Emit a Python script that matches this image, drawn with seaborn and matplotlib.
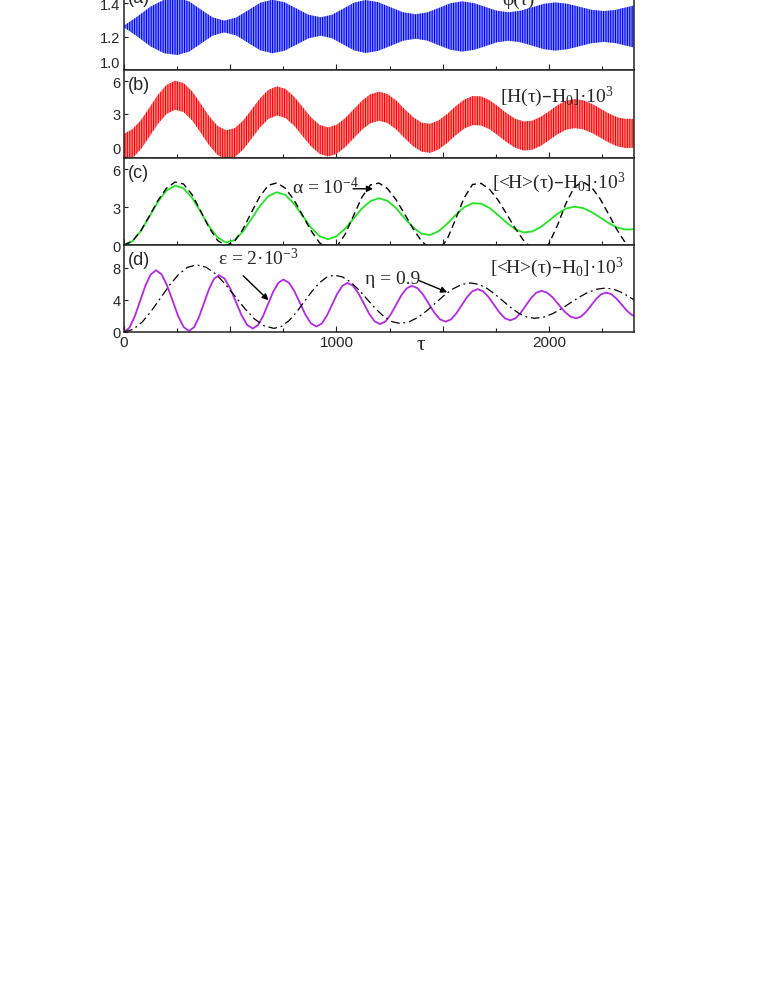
import matplotlib
matplotlib.use("Agg")
import matplotlib.pyplot as plt
import seaborn as sns
import numpy as np
import pandas as pd
from matplotlib.ticker import MultipleLocator

sns.set_style("ticks")
plt.rcParams['font.family'] = ['Liberation Sans', 'DejaVu Sans']
plt.rcParams['mathtext.default'] = 'regular'
plt.rcParams['hatch.linewidth'] = 0.8

SERIF = ['Liberation Serif', 'DejaVu Serif']

# ---------------- data ----------------
# panel (a): envelope of the fast oscillation of phi(tau)
tau_a = [0, 63, 126, 189, 252, 306.75, 361.5, 416.25, 471, 527.75, 584.5, 641.25, 698,
         755, 812, 869, 926, 978.5, 1031, 1083.5, 1136, 1195, 1254, 1313, 1372, 1426.75,
         1481.5, 1536.25, 1591, 1645.75, 1700.5, 1755.25, 1810, 1864.75, 1919.5, 1974.25,
         2029, 2085.75, 2142.5, 2199.25, 2256, 2312, 2368, 2424]
phi_upper = [1.265, 1.32, 1.38, 1.42, 1.43, 1.41, 1.362, 1.315, 1.295, 1.313, 1.357, 1.402, 1.42,
             1.405, 1.367, 1.33, 1.315, 1.33, 1.366, 1.403, 1.418, 1.406, 1.375, 1.345, 1.333, 1.344,
             1.371, 1.399, 1.41, 1.40, 1.377, 1.354, 1.345, 1.354, 1.374, 1.395, 1.404, 1.396,
             1.378, 1.36, 1.352, 1.359, 1.376, 1.393]
phi_lower = [1.255, 1.20, 1.14, 1.10, 1.09, 1.11, 1.157, 1.205, 1.225, 1.207, 1.162, 1.118, 1.10,
             1.115, 1.152, 1.19, 1.205, 1.19, 1.153, 1.117, 1.102, 1.114, 1.144, 1.175, 1.187, 1.176,
             1.148, 1.121, 1.11, 1.12, 1.142, 1.166, 1.175, 1.166, 1.146, 1.125, 1.116, 1.124,
             1.142, 1.16, 1.168, 1.161, 1.144, 1.127]

# common tau grid for panels (b) and (c)
tau_bc = [0, 40, 80, 120, 160, 200, 240, 280, 320, 360, 400, 440, 480, 520, 560, 600, 640, 680,
          720, 760, 800, 840, 880, 920, 960, 1000, 1040, 1080, 1120, 1160, 1200, 1240, 1280,
          1320, 1360, 1400, 1440, 1480, 1520, 1560, 1600, 1640, 1680, 1720, 1760, 1800, 1840,
          1880, 1920, 1960, 2000, 2040, 2080, 2120, 2160, 2200, 2240, 2280, 2320, 2360, 2400]

# panel (b): envelope of H(tau)-H0 (x1e3)
H_upper = [1.20, 1.62, 2.45, 3.59, 4.75, 5.64, 6.03, 5.82, 5.07, 3.97, 2.81, 1.92, 1.52, 1.70,
           2.39, 3.39, 4.42, 5.20, 5.51, 5.28, 4.59, 3.65, 2.70, 2.02, 1.78, 2.01, 2.61, 3.41,
           4.22, 4.80, 5.03, 4.82, 4.25, 3.46, 2.72, 2.22, 2.11, 2.41, 2.99, 3.69, 4.30, 4.63,
           4.60, 4.26, 3.70, 3.09, 2.58, 2.32, 2.39, 2.73, 3.25, 3.80, 4.21, 4.36, 4.25, 3.94,
           3.51, 3.06, 2.71, 2.55, 2.57]
H_lower = [-1.10, -1.02, -0.19, 0.95, 2.11, 3.00, 3.39, 3.18, 2.43, 1.33, 0.17, -0.72, -1.12,
           -0.94, -0.25, 0.75, 1.78, 2.56, 2.87, 2.64, 1.95, 1.01, 0.06, -0.62, -0.86, -0.63,
           -0.03, 0.77, 1.58, 2.16, 2.39, 2.18, 1.61, 0.82, 0.08, -0.42, -0.53, -0.23, 0.35,
           1.05, 1.66, 1.99, 1.96, 1.62, 1.06, 0.45, -0.06, -0.32, -0.25, 0.09, 0.61, 1.16,
           1.57, 1.72, 1.61, 1.30, 0.87, 0.42, 0.07, -0.09, -0.07]

# panel (c): averaged <H> (green) and alpha = 1e-4 (dashed)
avgH_c = [0.00, 0.30, 1.13, 2.27, 3.43, 4.32, 4.71, 4.50, 3.75, 2.65, 1.49, 0.60, 0.20, 0.38,
          1.07, 2.07, 3.10, 3.88, 4.19, 3.96, 3.27, 2.33, 1.38, 0.70, 0.46, 0.69, 1.29, 2.09,
          2.90, 3.48, 3.71, 3.50, 2.93, 2.14, 1.40, 0.90, 0.79, 1.09, 1.67, 2.37, 2.98, 3.31,
          3.28, 2.94, 2.38, 1.77, 1.26, 1.00, 1.07, 1.41, 1.93, 2.48, 2.89, 3.04, 2.93, 2.62,
          2.19, 1.74, 1.39, 1.23, 1.25]
alpha_c = [0.00, 0.31, 1.15, 2.32, 3.54, 4.51, 4.99, 4.84, 4.00, 2.72, 1.38, 0.36, -0.05, 0.29,
           1.26, 2.59, 3.88, 4.74, 4.93, 4.49, 3.57, 2.36, 1.14, 0.18, -0.31, -0.15, 0.83, 2.32,
           3.80, 4.77, 4.91, 4.47, 3.60, 2.47, 1.31, 0.31, -0.30, -0.41, 0.42, 2.03, 3.72, 4.80,
           4.89, 4.42, 3.57, 2.48, 1.35, 0.37, -0.28, -0.50, 0.11, 1.57, 3.31, 4.62, 5.00, 4.59,
           3.68, 2.46, 1.20, 0.16, -0.42]

# panel (d): eps = 2e-3 (purple) and eta = 0.9 (dash-dot)
tau_eps = [0, 25.2, 50.3, 75.5, 100.7, 125.8, 151, 176.8, 202.7, 228.5, 254.3, 280.2, 306,
           329.5, 353, 376.5, 400, 423.5, 447, 473.5, 500, 526.5, 553, 579.5, 606, 630, 654,
           678, 702, 726, 750, 776, 802, 828, 854, 880, 906, 930.3, 954.7, 979, 1003.3, 1027.7,
           1052, 1077.5, 1103, 1128.5, 1154, 1179.5, 1205, 1230, 1255, 1280, 1305, 1330, 1355,
           1381.3, 1407.7, 1434, 1460.3, 1486.7, 1513, 1538.2, 1563.3, 1588.5, 1613.7, 1638.8,
           1664, 1689.7, 1715.3, 1741, 1766.7, 1792.3, 1818, 1842.3, 1866.7, 1891, 1915.3,
           1939.7, 1964, 1991.2, 2018.3, 2045.5, 2072.7, 2099.8, 2127, 2150.7, 2174.3, 2198,
           2221.7, 2245.3, 2269, 2293.3, 2317.7, 2342, 2366.3, 2390.7, 2415]
val_eps = [0.00, 0.51, 1.92, 3.83, 5.75, 7.15, 7.66, 7.16, 5.78, 3.90, 2.01, 0.63, 0.13, 0.59,
           1.86, 3.60, 5.33, 6.60, 7.06, 6.62, 5.40, 3.75, 2.09, 0.87, 0.43, 0.84, 1.95, 3.47,
           4.99, 6.10, 6.51, 6.12, 5.05, 3.60, 2.14, 1.07, 0.68, 1.04, 2.03, 3.39, 4.74, 5.73,
           6.09, 5.75, 4.81, 3.54, 2.26, 1.32, 0.98, 1.30, 2.17, 3.36, 4.55, 5.42, 5.74, 5.44,
           4.63, 3.51, 2.40, 1.58, 1.28, 1.55, 2.29, 3.30, 4.31, 5.05, 5.32, 5.06, 4.35, 3.39,
           2.42, 1.71, 1.45, 1.70, 2.37, 3.28, 4.20, 4.87, 5.11, 4.88, 4.26, 3.41, 2.55, 1.93,
           1.70, 1.91, 2.50, 3.30, 4.09, 4.68, 4.89, 4.69, 4.14, 3.40, 2.65, 2.10, 1.90]
tau_eta = [0, 42.6, 85.3, 127.9, 170.5, 213.1, 255.8, 298.4, 341, 386.6, 432.3, 477.9, 523.5,
           569.1, 614.8, 660.4, 706, 741.5, 777, 812.5, 848, 883.5, 919, 954.5, 990, 1028.6,
           1067.3, 1105.9, 1144.5, 1183.1, 1221.8, 1260.4, 1299, 1340.5, 1382, 1423.5, 1465,
           1506.5, 1548, 1589.5, 1631, 1668.6, 1706.3, 1743.9, 1781.5, 1819.1, 1856.8, 1894.4,
           1932, 1973.6, 2015.3, 2056.9, 2098.5, 2140.1, 2181.8, 2223.4, 2265, 2300.3, 2335.5,
           2370.8, 2406]
val_eta = [0.00, 0.32, 1.22, 2.58, 4.17, 5.76, 7.12, 8.02, 8.34, 8.04, 7.19, 5.90, 4.40, 2.89,
           1.60, 0.75, 0.45, 0.70, 1.42, 2.49, 3.76, 5.02, 6.10, 6.81, 7.06, 6.83, 6.18, 5.21,
           4.06, 2.91, 1.94, 1.29, 1.06, 1.25, 1.79, 2.61, 3.58, 4.54, 5.36, 5.90, 6.09, 5.92,
           5.45, 4.73, 3.90, 3.06, 2.34, 1.87, 1.70, 1.84, 2.25, 2.86, 3.58, 4.29, 4.90, 5.31,
           5.45, 5.33, 4.99, 4.48, 3.88]

# ticks / labels
x_major = [0, 500, 1000, 1500, 2000]
x_major_labels = ['0', '', '1000', '', '2000']
yticks_a = [1.0, 1.2, 1.4]
yticklabels_a = ['1.0', '1.2', '1.4']
yticks_b = [0, 3, 6]
yticks_c = [0, 3, 6]
yticks_d = [0, 4, 8]
panel_labels = ['(a)', '(b)', '(c)', '(d)']
txt_a = 'φ(τ)'
txt_b = '[H(τ)–H$_0$]·10$^3$'
txt_cd = '[<H>(τ)–H$_0$]·10$^3$'
txt_alpha = 'α = 10$^{-4}$'
txt_eps = 'ε = 2·10$^{-3}$'
txt_eta = 'η = 0.9'

# ---------------- figure ----------------
W_PX, H_PX = 763, 987
fig = plt.figure(figsize=(W_PX / 100, H_PX / 100), dpi=100)
L = 124 / W_PX
WID = 510 / W_PX


def rect(top_px, bot_px):
    return [L, (H_PX - bot_px) / H_PX, WID, (bot_px - top_px) / H_PX]


ax_a = fig.add_axes(rect(-16, 71))
ax_b = fig.add_axes(rect(71, 159))
ax_c = fig.add_axes(rect(159, 246))
ax_d = fig.add_axes(rect(246, 333))
axes = [ax_a, ax_b, ax_c, ax_d]

# (a) phi band
with plt.rc_context({'hatch.color': '#0000ff'}):
    ax_a.fill_between(tau_a, phi_lower, phi_upper, facecolor='#8795ff', edgecolor='#0000ff',
                      hatch='|||||||', linewidth=0)
# (b) H band
with plt.rc_context({'hatch.color': '#ff0000'}):
    ax_b.fill_between(tau_bc, H_lower, H_upper, facecolor='#ff8e8e', edgecolor='#ff0000',
                      hatch='|||||||', linewidth=0)

# (c)
df_c = pd.DataFrame({'tau': tau_bc, 'avg': avgH_c, 'alpha': alpha_c})
sns.lineplot(data=df_c, x='tau', y='avg', ax=ax_c, color='#22e622', linewidth=1.3,
             estimator=None, sort=False)
sns.lineplot(data=df_c, x='tau', y='alpha', ax=ax_c, color='black', linewidth=1.0,
             linestyle=(0, (5, 3)), estimator=None, sort=False)

# (d)
sns.lineplot(x=tau_eps, y=val_eps, ax=ax_d, color='#b428e8', linewidth=1.3,
             estimator=None, sort=False)
sns.lineplot(x=tau_eta, y=val_eta, ax=ax_d, color='black', linewidth=0.9,
             linestyle=(0, (7, 3, 1.5, 3)), estimator=None, sort=False)

ax_a.set_ylim(1.0, 1.52)
ax_b.set_ylim(-1, 7)
ax_c.set_ylim(0, 6.9)
ax_d.set_ylim(0, 10.8)
ax_a.set_yticks(yticks_a, labels=yticklabels_a)
ax_b.set_yticks(yticks_b)
ax_c.set_yticks(yticks_c)
ax_d.set_yticks(yticks_d)

for i, ax in enumerate(axes):
    ax.set_xlim(0, 2400)
    ax.set_xticks(x_major, labels=x_major_labels)
    ax.xaxis.set_minor_locator(MultipleLocator(250))
    ax.tick_params(axis='x', which='both', direction='in', top=False, bottom=True,
                   labelbottom=(ax is ax_d), labelsize=11, pad=2, width=0.8, color='#222222')
    ax.tick_params(axis='x', which='major', length=4)
    ax.tick_params(axis='x', which='minor', length=3)
    ax.tick_params(axis='y', which='both', direction='in', length=3, width=0.8,
                   labelsize=10.5, pad=2.5, color='#222222')
    ax.set_xlabel('')
    ax.set_ylabel('')
    for s in ax.spines.values():
        s.set_linewidth(1.1)
        s.set_color('#222222')
    ax.text(0.008, 0.93, panel_labels[i], transform=ax.transAxes, ha='left', va='top',
            fontsize=13)

# keep the bottom label of (a) clear of the top label of (b)
ax_a.get_yticklabels()[0].set_va('bottom')

ax_d.set_xlabel('τ', fontfamily=SERIF, fontsize=15)
ax_d.xaxis.label.set_va('baseline')
ax_d.xaxis.set_label_coords(0.582, -0.19)

# annotations
ax_a.text(1854, 1.395, txt_a, ha='center', va='baseline', fontsize=14, fontfamily=SERIF)
ax_b.text(1769, 4.2, txt_b, ha='left', va='baseline', fontsize=14, fontfamily=SERIF)
ax_c.text(1730, 4.56, txt_cd, ha='left', va='baseline', fontsize=14, fontfamily=SERIF)
ax_d.text(1722, 7.4, txt_cd, ha='left', va='baseline', fontsize=14, fontfamily=SERIF)
ax_c.text(789, 4.1, txt_alpha, ha='left', va='baseline', fontsize=14, fontfamily=SERIF)
ax_d.text(444, 8.44, txt_eps, ha='left', va='baseline', fontsize=14, fontfamily=SERIF)
ax_d.text(1134, 6.08, txt_eta, ha='left', va='baseline', fontsize=14, fontfamily=SERIF)

arrow = dict(arrowstyle='-|>', lw=1.0, color='black', mutation_scale=9, shrinkA=0, shrinkB=0)
ax_c.annotate('', xy=(1172, 4.46), xytext=(1078, 4.46), arrowprops=arrow)
ax_d.annotate('', xy=(680, 3.95), xytext=(561, 6.98), arrowprops=arrow)
ax_d.annotate('', xy=(1521, 4.93), xytext=(1390, 6.37), arrowprops=arrow)

fig.savefig('out.png', dpi=100)
